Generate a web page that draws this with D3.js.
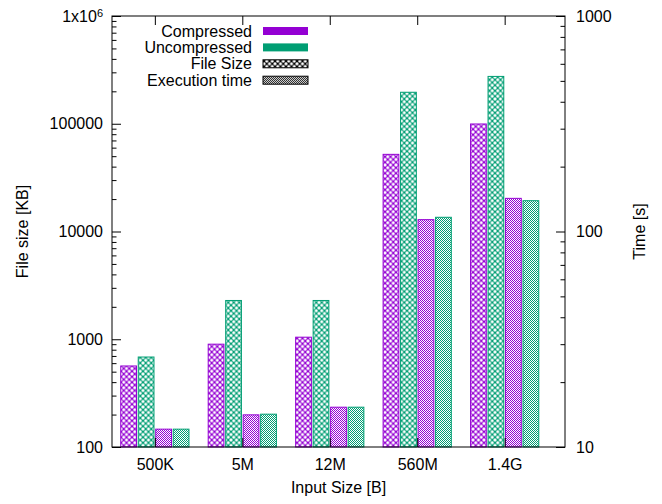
<!DOCTYPE html>
<html>
<head>
<meta charset="utf-8">
<script src="https://cdn.jsdelivr.net/npm/d3@7"></script>
<style>
  body { margin: 0; background: #fff; }
  svg { font-family: "Liberation Sans", Arial, sans-serif; }
</style>
</head>
<body>
<div id="chart"></div>
<script>
// data
const categories = ["500K", "5M", "12M", "560M", "1.4G"];
const sizeCompressed = [565, 900, 1045, 52000, 99500]; // KB
const sizeUncompressed = [684, 2290, 2290, 196000, 275000]; // KB
const timeCompressed = [12.1, 14.1, 15.3, 113.5, 142.5]; // s
const timeUncompressed = [12.1, 14.2, 15.3, 116.4, 139]; // s
const leftTicks = [100, 1000, 10000, 100000, 1000000];
const rightTicks = [10, 100, 1000];
const legendLabels = ["Compressed", "Uncompressed", "File Size", "Execution time"];

const width = 662,
  height = 504;
const marginLeft = 112,
  marginRight = 97,
  marginTop = 16,
  marginBottom = 57;
const purple = "#9400d3",
  green = "#009e73";

const svg = d3
  .select("#chart")
  .append("svg")
  .attr("width", width)
  .attr("height", height);

const defs = svg.append("defs");

// crosshatch (file size) and fine checker (execution time) fills
function hatch(id, color) {
  const s = 5.5;
  const p = defs
    .append("pattern")
    .attr("id", id)
    .attr("patternUnits", "userSpaceOnUse")
    .attr("width", s)
    .attr("height", s);
  p.append("rect").attr("width", s).attr("height", s).attr("fill", color);
  [[0, 0], [s, 0], [0, s], [s, s], [s / 2, s / 2]].forEach(([cx, cy]) =>
    p.append("circle").attr("cx", cx).attr("cy", cy).attr("r", 1.6).attr("fill", "#fff")
  );
}
function checker(id, color) {
  const p = defs
    .append("pattern")
    .attr("id", id)
    .attr("patternUnits", "userSpaceOnUse")
    .attr("width", 2)
    .attr("height", 2);
  p.append("rect").attr("width", 2).attr("height", 2).attr("fill", "#fff");
  p.append("rect").attr("width", 1).attr("height", 1).attr("fill", color);
  p.append("rect").attr("x", 1).attr("y", 1).attr("width", 1).attr("height", 1).attr("fill", color);
}
hatch("hatchPurple", purple);
hatch("hatchGreen", green);
hatch("hatchBlack", "#000");
checker("checkPurple", purple);
checker("checkGreen", green);
checker("checkBlack", "#000");

// scales
const x = d3.scaleLinear([-0.49, 4.69], [marginLeft, width - marginRight]);
const yLeft = d3.scaleLog([100, 1e6], [height - marginBottom, marginTop]);
const yRight = d3.scaleLog([10, 1000], [height - marginBottom, marginTop]);
const slot = 0.2; // one bar slot, in group units
const barW = (x(slot) - x(0)) * 0.9;

const series = [
  { values: sizeCompressed, y: yLeft, color: purple, fill: "url(#hatchPurple)" },
  { values: sizeUncompressed, y: yLeft, color: green, fill: "url(#hatchGreen)" },
  { values: timeCompressed, y: yRight, color: purple, fill: "url(#checkPurple)" },
  { values: timeUncompressed, y: yRight, color: green, fill: "url(#checkGreen)" },
];

// bars
series.forEach((s, k) => {
  svg
    .append("g")
    .selectAll("rect")
    .data(s.values)
    .join("rect")
    .attr("x", (d, i) => x(i + (k - 1.5) * slot) - barW / 2)
    .attr("y", (d) => s.y(d))
    .attr("width", barW)
    .attr("height", (d) => s.y.range()[0] - s.y(d))
    .attr("fill", s.fill)
    .attr("stroke", s.color)
    .attr("stroke-width", 1);
});

const minorOf = (scale) =>
  scale.ticks().filter((t) => Math.abs(Math.log10(t) - Math.round(Math.log10(t))) > 1e-6);

const styleAxis = (g) => {
  g.select(".domain").remove();
  g.selectAll("text").attr("font-size", 16).attr("fill", "#000").attr("font-family", null);
  g.selectAll("line").attr("stroke", "#000");
};

// left axis
svg
  .append("g")
  .attr("transform", `translate(${marginLeft},0)`)
  .call(d3.axisLeft(yLeft).tickValues(minorOf(yLeft)).tickSize(-4.5).tickFormat(""))
  .call(styleAxis);
const gl = svg
  .append("g")
  .attr("transform", `translate(${marginLeft},0)`)
  .call(
    d3.axisLeft(yLeft).tickValues(leftTicks).tickSize(-9).tickPadding(9).tickFormat(d3.format("d"))
  )
  .call(styleAxis);
gl.selectAll(".tick text")
  .filter((d) => d === 1e6)
  .text("1x10")
  .append("tspan")
  .attr("dy", "-0.45em")
  .attr("font-size", 11)
  .text("6");

// right axis
svg
  .append("g")
  .attr("transform", `translate(${width - marginRight},0)`)
  .call(d3.axisRight(yRight).tickValues(minorOf(yRight)).tickSize(-4.5).tickFormat(""))
  .call(styleAxis);
svg
  .append("g")
  .attr("transform", `translate(${width - marginRight},0)`)
  .call(d3.axisRight(yRight).tickValues(rightTicks).tickSize(-9).tickPadding(11).tickFormat(d3.format("d")))
  .call(styleAxis);

// x axis (bottom with labels, top mirrored)
svg
  .append("g")
  .attr("transform", `translate(0,${height - marginBottom})`)
  .call(
    d3
      .axisBottom(x)
      .tickValues(d3.range(categories.length))
      .tickSize(-9)
      .tickPadding(12)
      .tickFormat((i) => categories[i])
  )
  .call(styleAxis);
svg
  .append("g")
  .attr("transform", `translate(0,${marginTop})`)
  .call(d3.axisTop(x).tickValues(d3.range(categories.length)).tickSize(-9).tickFormat(""))
  .call(styleAxis);

// frame
svg
  .append("rect")
  .attr("x", marginLeft)
  .attr("y", marginTop)
  .attr("width", width - marginLeft - marginRight)
  .attr("height", height - marginTop - marginBottom)
  .attr("fill", "none")
  .attr("stroke", "#000")
  .attr("stroke-width", 1);

// axis titles
svg
  .append("text")
  .attr("x", (marginLeft + width - marginRight) / 2)
  .attr("y", 493)
  .attr("text-anchor", "middle")
  .attr("font-size", 16)
  .text("Input Size [B]");
svg
  .append("text")
  .attr("transform", `translate(27.5,${(marginTop + height - marginBottom) / 2}) rotate(-90)`)
  .attr("text-anchor", "middle")
  .attr("font-size", 16)
  .text("File size [KB]");
svg
  .append("text")
  .attr("transform", `translate(645,${(marginTop + height - marginBottom) / 2}) rotate(-90)`)
  .attr("text-anchor", "middle")
  .attr("font-size", 16)
  .text("Time [s]");

// legend
const legendFills = [purple, green, "url(#hatchBlack)", "url(#checkBlack)"];
const legend = svg
  .append("g")
  .selectAll("g")
  .data(legendLabels)
  .join("g")
  .attr("transform", (d, i) => `translate(0,${31 + i * 16.4})`);
legend
  .append("text")
  .attr("x", 252)
  .attr("dy", "0.35em")
  .attr("text-anchor", "end")
  .attr("font-size", 16)
  .text((d) => d);
legend
  .append("rect")
  .attr("x", 263)
  .attr("y", -4)
  .attr("width", 45)
  .attr("height", 8)
  .attr("fill", (d, i) => legendFills[i])
  .attr("stroke", (d, i) => (i < 2 ? "none" : "#000"))
  .attr("stroke-width", 1);
</script>
</body>
</html>
